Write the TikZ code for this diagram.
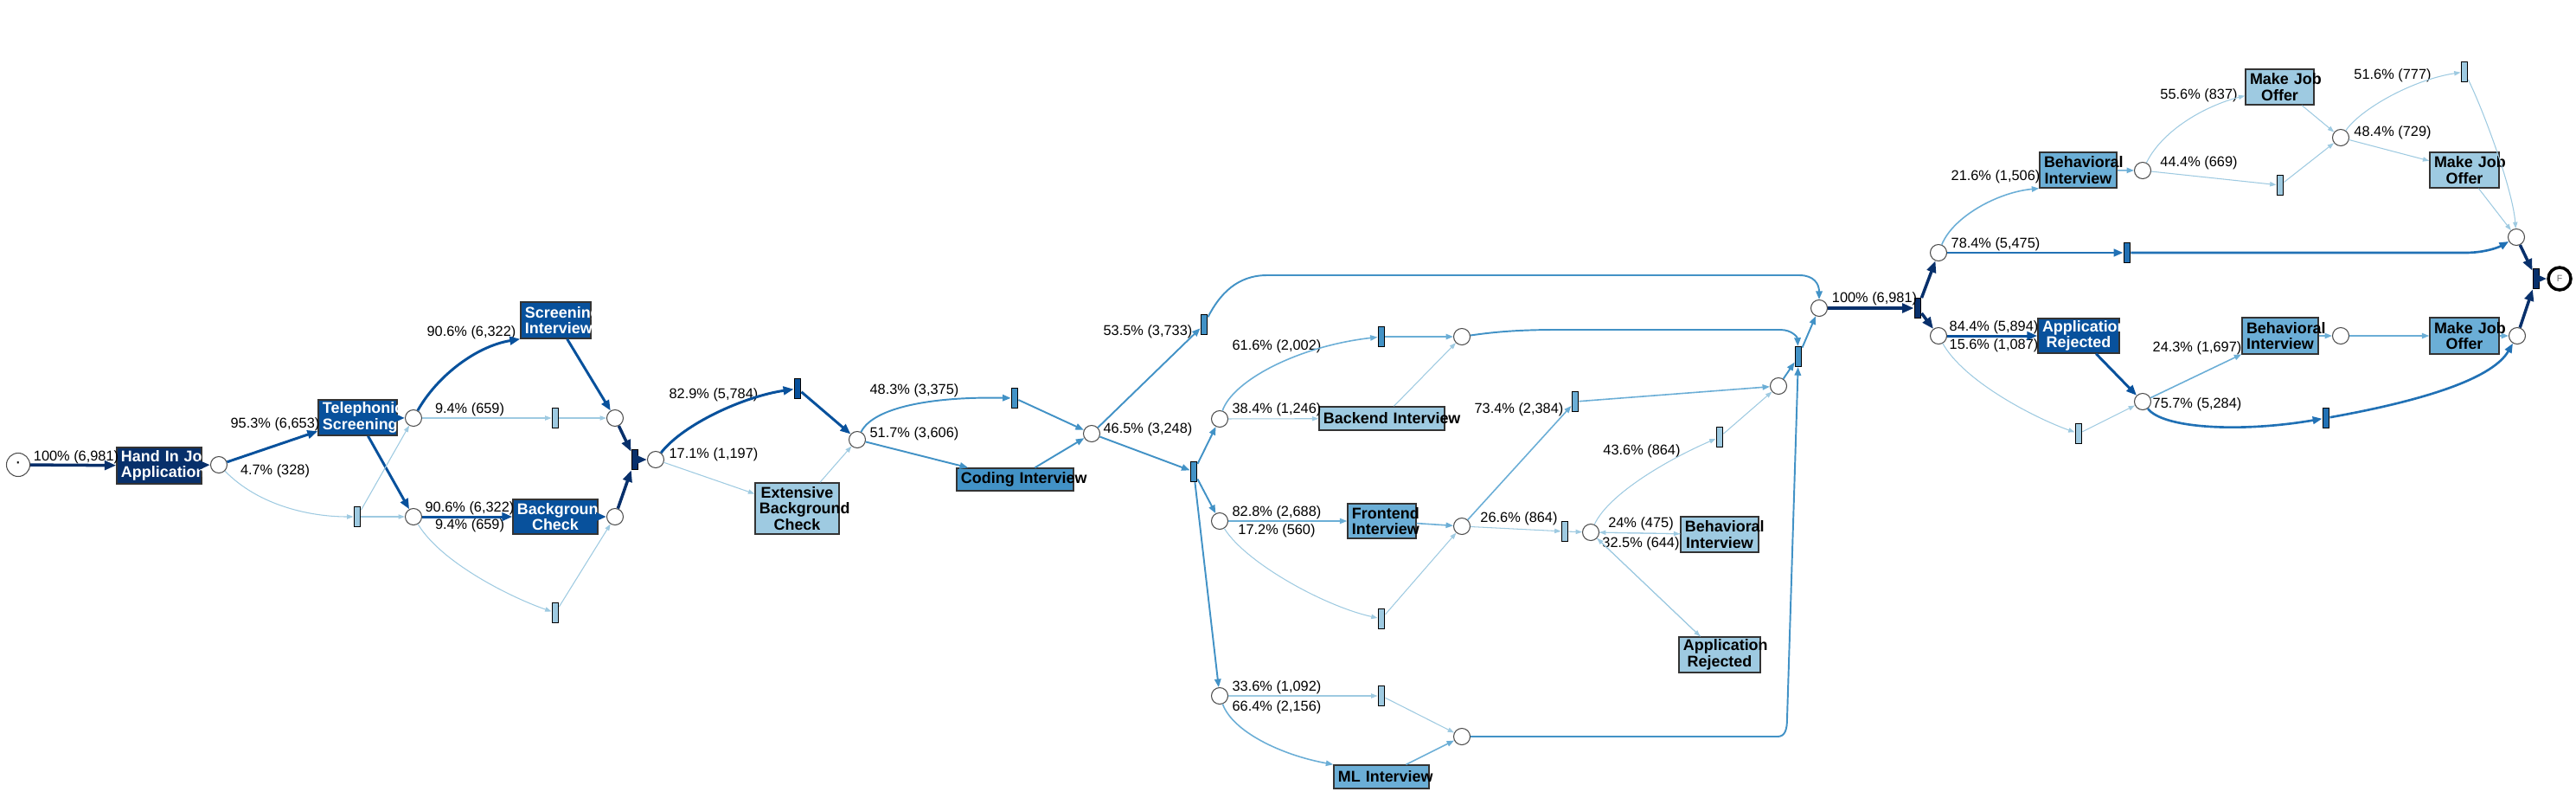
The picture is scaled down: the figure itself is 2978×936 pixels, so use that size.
\documentclass[tikz,border=0pt]{standalone}
\usepackage{fontspec}
\setmainfont{Liberation Sans}
\usetikzlibrary{arrows.meta}
\definecolor{cA}{HTML}{08306B}
\definecolor{cB}{HTML}{08519C}
\definecolor{cC}{HTML}{2171B5}
\definecolor{cD}{HTML}{4292C6}
\definecolor{cE}{HTML}{6BAED6}
\definecolor{cF}{HTML}{9ECAE1}
\newcommand{\labfont}{\fontsize{4.65}{5}\selectfont}
\newcommand{\actfont}{\bfseries\fontsize{5.1}{5.25}\selectfont}
\tikzset{
  pl/.style={circle, draw=black!70, line width=0.3pt, fill=white, minimum size=0.19cm, inner sep=0pt},
  tau/.style={rectangle, draw=black, line width=0.4pt, fill=#1, minimum width=0.075cm, minimum height=0.23cm, inner sep=0pt},
  act/.style 2 args={rectangle, draw=black!80, line width=0.4pt, inner ysep=0pt, inner xsep=0.05cm, align=center, font=\actfont, text width=#1cm, minimum height=#2cm},
  lab/.style={font=\labfont, inner sep=0pt},
  eA/.style={draw=cA, line width=1.0pt, -{Triangle[length=3.8pt,width=3pt]}},
  eB/.style={draw=cB, line width=0.85pt, -{Triangle[length=3.4pt,width=2.7pt]}},
  eC/.style={draw=cC, line width=0.75pt, -{Triangle[length=3.1pt,width=2.4pt]}},
  eD/.style={draw=cD, line width=0.55pt, -{Triangle[length=2.7pt,width=2.1pt]}},
  eE/.style={draw=cE, line width=0.45pt, -{Triangle[length=2.4pt,width=1.8pt]}},
  eF/.style={draw=cF, line width=0.3pt, -{Triangle[length=2.1pt,width=1.5pt]}},
}
\begin{document}
\begin{tikzpicture}[x=0.01cm,y=-0.01cm]
\useasboundingbox (0,0) rectangle (2978,936);
% places
\node[pl, minimum size=0.27cm] (start) at (21,537) {\fontsize{6}{6}\selectfont\textperiodcentered};
\node[pl] (p1) at (253,537) {};
\node[pl] (p2) at (478,483) {};
\node[pl] (p3) at (478,597) {};
\node[pl] (p4) at (711,483) {};
\node[pl] (p5) at (711,597) {};
\node[pl] (p6) at (758,531) {};
\node[pl] (p7) at (991,508) {};
\node[pl] (p8) at (1262,501) {};
\node[pl] (p9) at (1410,484) {};
\node[pl] (p10) at (1410,602) {};
\node[pl] (p16) at (1410,804) {};
\node[pl] (p11) at (1690,389) {};
\node[pl] (p12) at (1690,608) {};
\node[pl] (p17) at (1690,851) {};
\node[pl] (p13) at (1839,615) {};
\node[pl] (p14) at (2056,446) {};
\node[pl] (p15) at (2103,356) {};
\node[pl] (p20) at (2241,292) {};
\node[pl] (p18) at (2241,388) {};
\node[pl] (p21) at (2477,197) {};
\node[pl] (p19) at (2477,464) {};
\node[pl] (p22) at (2706,159) {};
\node[pl] (p24) at (2706,388) {};
\node[pl] (p23) at (2909,274) {};
\node[pl] (p25) at (2910,388) {};
\node[circle, draw=black, line width=1pt, fill=white, minimum size=0.26cm, inner sep=0pt, text=black!60] (fin) at (2959,322) {\fontsize{3}{3}\selectfont F};
% silent transitions
\node[tau=cF] (t1) at (413,597) {};
\node[tau=cF] (t2) at (642,483) {};
\node[tau=cF] (tb) at (642,708) {};
\node[tau=cA] (t3) at (734,531) {};
\node[tau=cB] (t4) at (922,449) {};
\node[tau=cD] (t5) at (1173,460) {};
\node[tau=cD] (t6) at (1392,375) {};
\node[tau=cD] (t7) at (1380,545) {};
\node[tau=cD] (t8) at (1597,389) {};
\node[tau=cE] (t9) at (1821,464) {};
\node[tau=cF] (t10) at (1809,614) {};
\node[tau=cF] (t11) at (1597,715) {};
\node[tau=cF] (t12) at (1988,505) {};
\node[tau=cD] (t13) at (2079,412) {};
\node[tau=cF] (t14) at (1597,804) {};
\node[tau=cA] (t15) at (2217,356) {};
\node[tau=cF] (t16) at (2403,501) {};
\node[tau=cC] (t17) at (2459,292) {};
\node[tau=cF] (t18) at (2636,214) {};
\node[tau=cF] (t19) at (2849,83) {};
\node[tau=cA] (t20) at (2932,322) {};
\node[tau=cC] (t21) at (2689,483) {};
% activities
\node[act={0.88}{0.42}, fill=cA, text=white] (hand) at (184,538) {\mbox{Hand In Job}\\\mbox{Application}};
\node[act={0.81}{0.41}, fill=cB, text=white] (tel) at (413.5,482.5) {\mbox{Telephonic}\\\mbox{Screening}};
\node[act={0.71}{0.42}, fill=cB, text=white] (scr) at (642.5,370) {\mbox{Screening}\\\mbox{Interview}};
\node[act={0.88}{0.40}, fill=cB, text=white] (bg) at (642,597) {\mbox{Background}\\\mbox{Check}};
\node[act={0.87}{0.59}, fill=cF] (ext) at (921.5,587.5) {\mbox{Extensive}\\\mbox{Background}\\\mbox{Check}};
\node[act={1.25}{0.26}, fill=cD] (cod) at (1173.5,554) {\mbox{Coding Interview}};
\node[act={1.35}{0.27}, fill=cF] (back) at (1597.5,483.5) {\mbox{Backend Interview}};
\node[act={0.69}{0.40}, fill=cE] (front) at (1597.5,602) {\mbox{Frontend}\\\mbox{Interview}};
\node[act={1.00}{0.27}, fill=cE] (ml) at (1597,897.5) {\mbox{ML Interview}};
\node[act={0.80}{0.41}, fill=cF] (behm) at (1988,617.5) {\mbox{Behavioral}\\\mbox{Interview}};
\node[act={0.84}{0.41}, fill=cF] (arl) at (1988,756.5) {\mbox{Application}\\\mbox{Rejected}};
\node[act={0.84}{0.40}, fill=cB, text=white] (ard) at (2403,388) {\mbox{Application}\\\mbox{Rejected}};
\node[act={0.79}{0.41}, fill=cE] (behu) at (2402.5,196.5) {\mbox{Behavioral}\\\mbox{Interview}};
\node[act={0.69}{0.41}, fill=cF] (mjot) at (2635.5,100.5) {\mbox{Make Job}\\\mbox{Offer}};
\node[act={0.70}{0.41}, fill=cF] (mjor) at (2849,196.5) {\mbox{Make Job}\\\mbox{Offer}};
\node[act={0.78}{0.42}, fill=cE] (behl) at (2636,388) {\mbox{Behavioral}\\\mbox{Interview}};
\node[act={0.70}{0.42}, fill=cE] (mjol) at (2849,388) {\mbox{Make Job}\\\mbox{Offer}};
% labels
\node[lab] (l1) at (88,528) {100\% (6,981)};
\node[lab] (l2) at (318,490) {95.3\% (6,653)};
\node[lab] (l3) at (318,544) {4.7\% (328)};
\node[lab] (l4) at (545,384) {90.6\% (6,322)};
\node[lab] (l5) at (543,473) {9.4\% (659)};
\node[lab] (l6) at (543,587) {90.6\% (6,322)};
\node[lab] (l7) at (543,607) {9.4\% (659)};
\node[lab] (l8) at (825,456) {82.9\% (5,784)};
\node[lab] (l9) at (825,525) {17.1\% (1,197)};
\node[lab] (l10) at (1057,451) {48.3\% (3,375)};
\node[lab] (l11) at (1057,501) {51.7\% (3,606)};
\node[lab] (l12) at (1327,383) {53.5\% (3,733)};
\node[lab] (l13) at (1327,496) {46.5\% (3,248)};
\node[lab] (l14) at (1476,400) {61.6\% (2,002)};
\node[lab] (l15) at (1476,473) {38.4\% (1,246)};
\node[lab] (l16) at (1476,592) {82.8\% (2,688)};
\node[lab] (l17) at (1476,613) {17.2\% (560)};
\node[lab] (l18) at (1756,473) {73.4\% (2,384)};
\node[lab] (l19) at (1756,599) {26.6\% (864)};
\node[lab] (l20) at (1898,521) {43.6\% (864)};
\node[lab] (l21) at (1897,605) {24\% (475)};
\node[lab] (l22) at (1897,628) {32.5\% (644)};
\node[lab] (l23) at (1476,794) {33.6\% (1,092)};
\node[lab] (l24) at (1476,817) {66.4\% (2,156)};
\node[lab] (l25) at (2167,345) {100\% (6,981)};
\node[lab] (l26) at (2305,378) {84.4\% (5,894)};
\node[lab] (l27) at (2305,399) {15.6\% (1,087)};
\node[lab] (l28) at (2307,282) {78.4\% (5,475)};
\node[lab] (l29) at (2307,204) {21.6\% (1,506)};
\node[lab] (l30) at (2542,110) {55.6\% (837)};
\node[lab] (l31) at (2542,188) {44.4\% (669)};
\node[lab] (l32) at (2766,87) {51.6\% (777)};
\node[lab] (l33) at (2766,153) {48.4\% (729)};
\node[lab] (l34) at (2540,402) {24.3\% (1,697)};
\node[lab] (l35) at (2540,467) {75.7\% (5,284)};
% edges
\draw[eA] (start) -- (hand);
\draw[eA] (hand) -- (p1);
\draw[eB] (p1) -- (tel);
\draw[eF] (p1) .. controls (300,585) and (360,597) .. (t1);
\draw[eB] (tel) -- (p2);
\draw[eB] (tel) -- (p3);
\draw[eF] (t1) -- (p2);
\draw[eF] (t1) -- (p3);
\draw[eB] (p2) .. controls (505,435) and (550,400) .. (scr.south west);
\draw[eF] (p2) -- (t2);
\draw[eB] (scr) -- (p4);
\draw[eF] (t2) -- (p4);
\draw[eB] (p3) -- (bg);
\draw[eF] (p3) .. controls (510,650) and (590,690) .. (tb);
\draw[eB] (bg) -- (p5);
\draw[eF] (tb) -- (p5);
\draw[eA] (p4) -- (t3);
\draw[eA] (p5) -- (t3);
\draw[eA] (t3) -- (p6);
\draw[eB] (p6) .. controls (790,490) and (860,458) .. (t4);
\draw[eF] (p6) -- (ext);
\draw[eB] (t4) -- (p7);
\draw[eF] (ext) -- (p7);
\draw[eD] (p7) .. controls (1010,470) and (1080,458) .. (t5);
\draw[eD] (p7) -- (cod);
\draw[eD] (t5) -- (p8);
\draw[eD] (cod) -- (p8);
\draw[eD] (p8) -- (t6);
\draw[eD] (p8) -- (t7);
\draw[eD] (t6) .. controls (1410,340) and (1430,318) .. (1465,318) -- (2080,318) .. controls (2097,318) and (2103,328) .. (p15);
\draw[eD] (t7) -- (p9);
\draw[eD] (t7) -- (p10);
\draw[eD] (t7) -- (p16);
\draw[eE] (p9) .. controls (1425,440) and (1500,400) .. (t8);
\draw[eF] (p9) -- (back);
\draw[eE] (t8) -- (p11);
\draw[eF] (back) -- (p11);
\draw[eD] (p11) .. controls (1730,383) and (1760,381) .. (1800,381) -- (2058,381) .. controls (2072,381) and (2078,390) .. (t13);
\draw[eE] (p10) -- (front);
\draw[eF] (p10) .. controls (1440,650) and (1530,700) .. (t11);
\draw[eE] (front) -- (p12);
\draw[eF] (t11) -- (p12);
\draw[eE] (p12) -- (t9);
\draw[eF] (p12) -- (t10);
\draw[eE] (t9) -- (p14);
\draw[eF] (t10) -- (p13);
\draw[eF] (p13) -- (behm);
\draw[eF] (behm) -- (p13);
\draw[eF] (p13) -- (arl);
\draw[eF] (arl) -- (p13);
\draw[eF] (p13) .. controls (1860,570) and (1930,530) .. (t12);
\draw[eF] (t12) -- (p14);
\draw[eD] (p14) -- (t13);
\draw[eF] (p16) -- (t14);
\draw[eE] (p16) .. controls (1425,845) and (1480,872) .. (ml.north west);
\draw[eF] (t14) -- (p17);
\draw[eE] (ml) -- (p17);
\draw[eD] (p17) -- (2055,851) .. controls (2064,851) and (2066,842) .. (2066,830) -- (t13);
\draw[eD] (t13) -- (p15);
\draw[eA] (p15) -- (t15);
\draw[eA] (t15) -- (p20);
\draw[eA] (t15) -- (p18);
\draw[eC] (p20) -- (t17);
\draw[eE] (p20) .. controls (2258,250) and (2310,222) .. (behu.south west);
\draw[eE] (behu) -- (p21);
\draw[eF] (p21) .. controls (2500,150) and (2550,122) .. (mjot);
\draw[eF] (p21) -- (t18);
\draw[eF] (mjot) -- (p22);
\draw[eF] (t18) -- (p22);
\draw[eF] (p22) .. controls (2730,125) and (2790,92) .. (t19);
\draw[eF] (p22) -- (mjor);
\draw[eF] (t19) .. controls (2872,130) and (2905,220) .. (p23);
\draw[eF] (mjor) -- (p23);
\draw[eC] (t17) -- (2850,292) .. controls (2872,292) and (2888,286) .. (p23);
\draw[eA] (p23) -- (t20);
\draw[eB] (p18) -- (ard);
\draw[eF] (p18) .. controls (2270,440) and (2350,482) .. (t16);
\draw[eB] (ard) -- (p19);
\draw[eF] (t16) -- (p19);
\draw[eE] (p19) -- (behl);
\draw[eC] (p19) .. controls (2500,495) and (2590,500) .. (t21);
\draw[eE] (behl) -- (p24);
\draw[eE] (p24) -- (mjol);
\draw[eE] (mjol) -- (p25);
\draw[eC] (t21) .. controls (2790,465) and (2880,440) .. (p25);
\draw[eA] (p25) -- (t20);
\draw[eA] (t20) -- (fin);
\end{tikzpicture}
\end{document}
